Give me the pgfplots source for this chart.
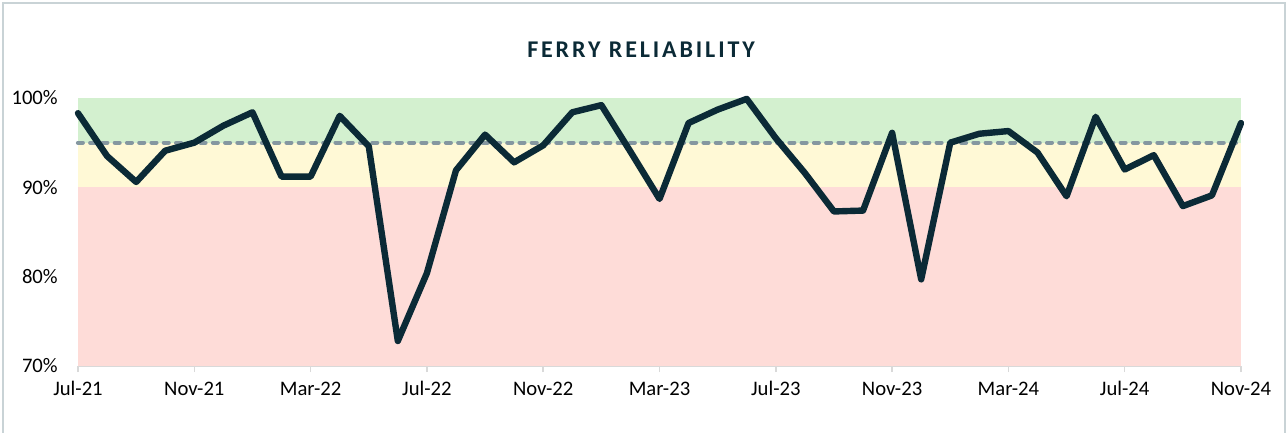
\documentclass[border=0pt]{standalone}
\usepackage{fontspec}
\setmainfont{Carlito}
\usepackage{pgfplots}
\pgfplotsset{compat=1.18}

\definecolor{navy}{HTML}{0B2A36}
\definecolor{bandgreen}{HTML}{D3F0CF}
\definecolor{bandyellow}{HTML}{FFF9D6}
\definecolor{bandred}{HTML}{FEDCD8}
\definecolor{target}{HTML}{8597A0}
\definecolor{axisgray}{HTML}{D9D9D9}
\definecolor{frame}{HTML}{C9D3D6}

\begin{document}
\begin{tikzpicture}[x=0.75pt,y=-0.75pt]
\path[use as bounding box] (0,0) rectangle (1287,432);
\draw[frame, line width=1.2pt] (3,433) -- (3,3) -- (1285,3) -- (1285,433);
\node[text=navy, font=\fontsize{18}{20}\selectfont\addfontfeatures{LetterSpace=12}\bfseries] at (641,50) {FERRY RELIABILITY};

\begin{axis}[
  at={(58.5pt,-274.5pt)}, anchor=south west,
  scale only axis, width=872.25pt, height=201pt,
  xmin=0, xmax=40, ymin=70, ymax=100,
  clip=false,
  axis x line*=bottom, axis y line*=left,
  y axis line style={draw=none},
  x axis line style={axisgray, line width=1.1pt},
  tick align=outside, major tick length=4.5pt,
  xtick={0,4,...,40},
  xticklabels={Jul-21,Nov-21,Mar-22,Jul-22,Nov-22,Mar-23,Jul-23,Nov-23,Mar-24,Jul-24,Nov-24},
  x tick style={axisgray, line width=1.1pt},
  ytick={70,80,90,100},
  yticklabels={70\%,80\%,90\%,100\%},
  y tick style={draw=none},
  ticklabel style={font=\fontsize{15.5}{18}\selectfont, text=black},
  xticklabel style={anchor=north, inner sep=0pt, yshift=-7pt},
  yticklabel style={anchor=east, inner sep=0pt, xshift=-10.5pt},
  /pgf/number format/assume math mode=true,
]
% bands
\addplot[draw=none, fill=bandred] coordinates {(0,70)(40,70)(40,90)(0,90)} -- cycle;
\addplot[draw=none, fill=bandyellow] coordinates {(0,90)(40,90)(40,95)(0,95)} -- cycle;
\addplot[draw=none, fill=bandgreen] coordinates {(0,95)(40,95)(40,100)(0,100)} -- cycle;
% target
\addplot[draw=target, line width=3.2pt, line cap=round, dash pattern=on 3.6pt off 5.6pt]
  coordinates {(0,95)(40,95)};
% reliability
\addplot[draw=navy, line width=4.8pt, line join=round, line cap=round] coordinates {
(0,98.3)(1,93.5)(2,90.6)(3,94.1)(4,95.0)(5,96.9)(6,98.4)(7,91.2)(8,91.2)(9,98.0)
(10,94.6)(11,72.8)(12,80.4)(13,91.9)(14,95.9)(15,92.8)(16,94.7)(17,98.4)(18,99.2)(19,94.0)
(20,88.7)(21,97.2)(22,98.7)(23,99.9)(24,95.5)(25,91.6)(26,87.3)(27,87.4)(28,96.1)(29,79.7)
(30,95.0)(31,96.0)(32,96.3)(33,93.9)(34,89.0)(35,97.9)(36,92.0)(37,93.6)(38,87.9)(39,89.1)
(40,97.2)
};
\end{axis}
\end{tikzpicture}
\end{document}
